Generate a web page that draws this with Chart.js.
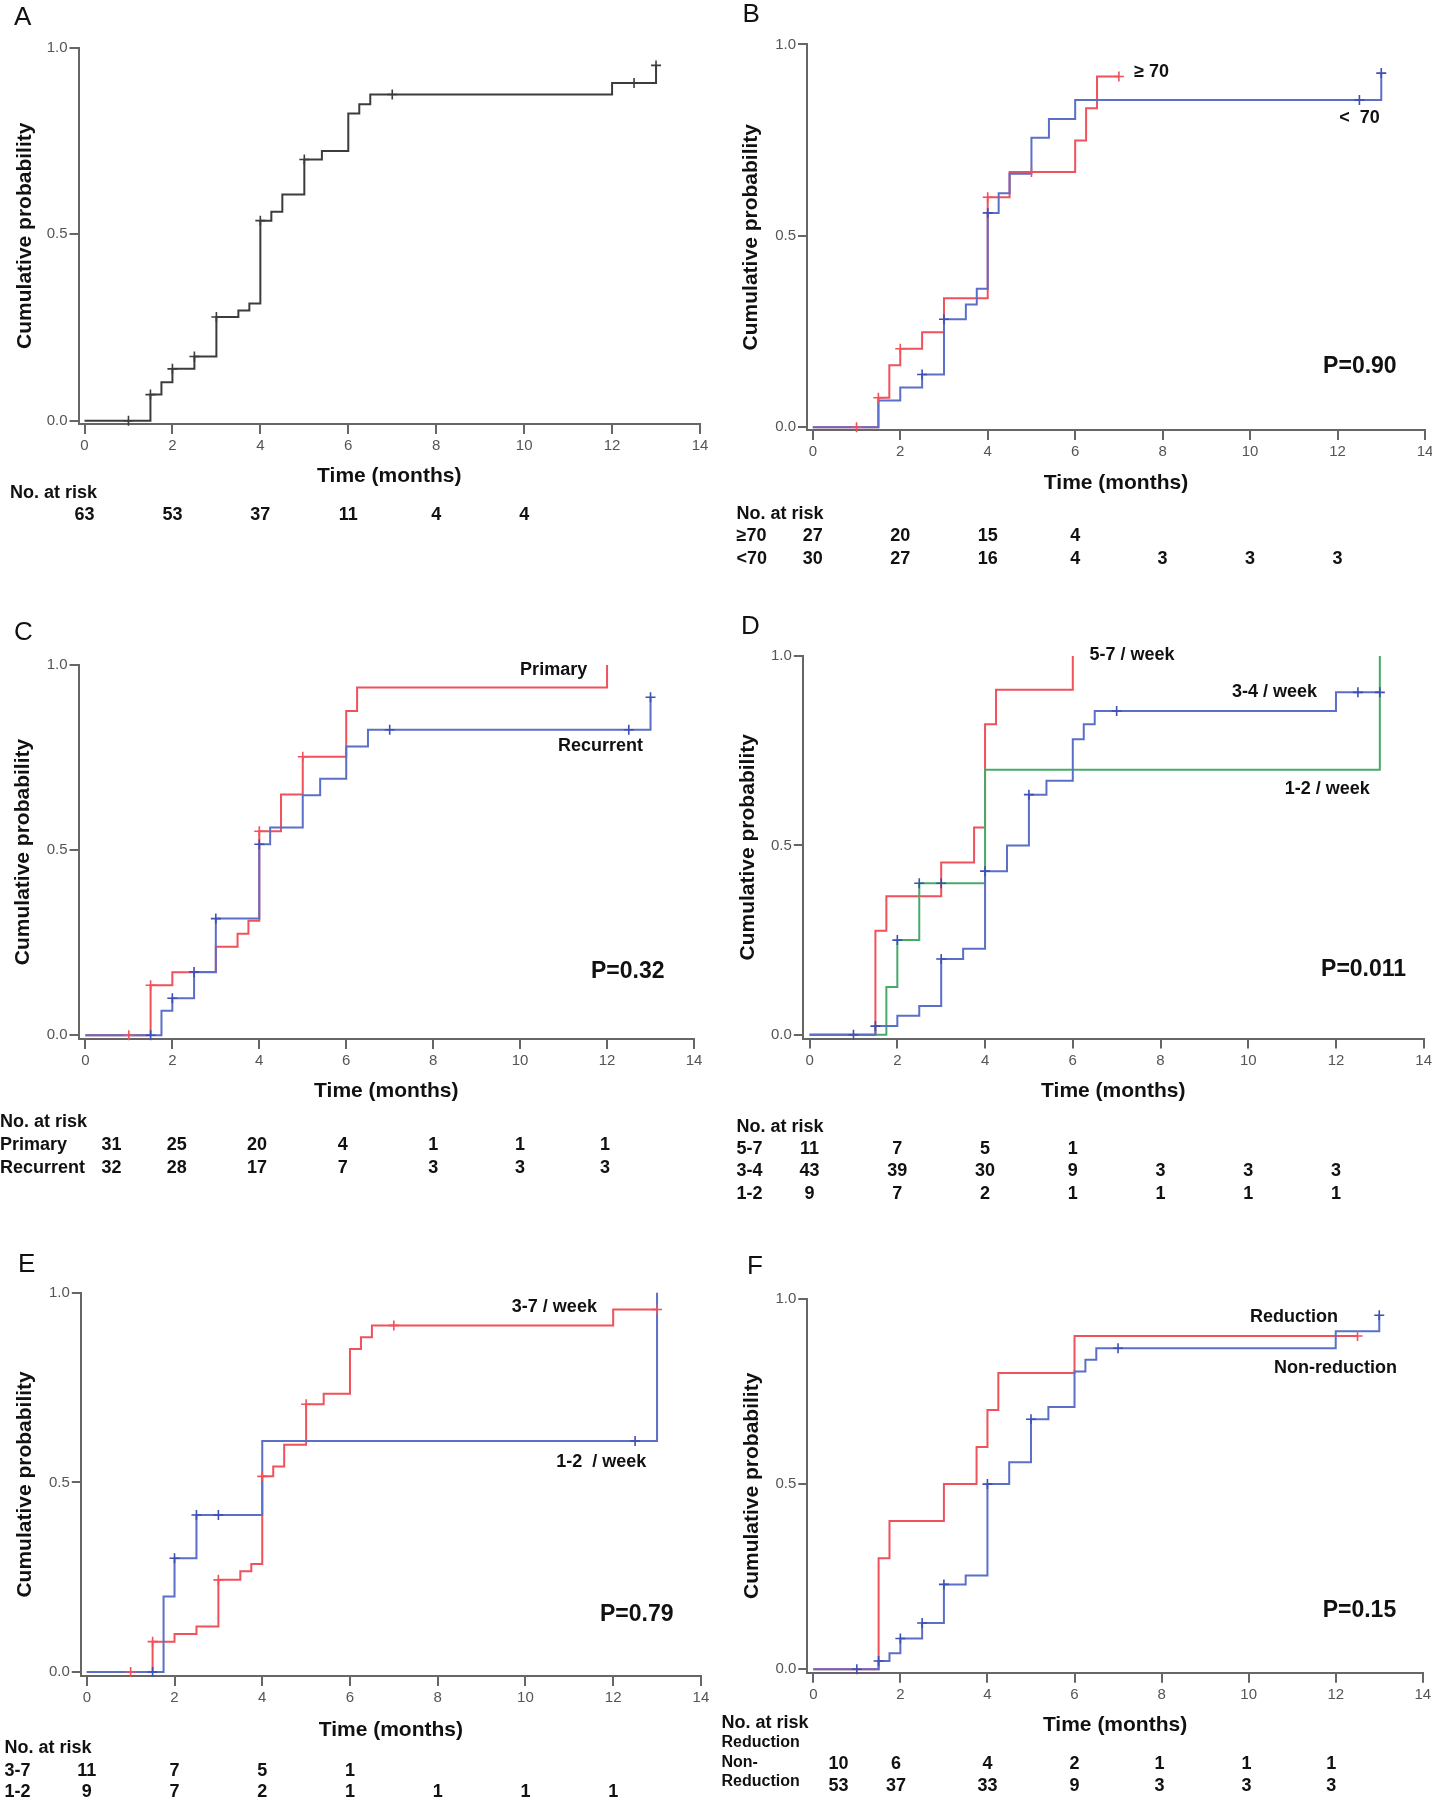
<!DOCTYPE html>
<html>
<head>
<meta charset="utf-8">
<script src="https://cdn.jsdelivr.net/npm/chart.js@4.4.1/dist/chart.umd.min.js"></script>
<style>
  html, body { margin: 0; padding: 0; background: #fff; }
  body { width: 1432px; height: 1800px; position: relative; overflow: hidden; }
  canvas { position: absolute; }
</style>
</head>
<body>
<canvas id="chartA"></canvas>
<canvas id="chartB"></canvas>
<canvas id="chartC"></canvas>
<canvas id="chartD"></canvas>
<canvas id="chartE"></canvas>
<canvas id="chartF"></canvas>
<script>
// axis ticks shared by all panels
const xTicks = [0, 2, 4, 6, 8, 10, 12, 14];
const yTicks = [0, 0.5, 1];

// A: all patients
const aTime = [0, 1.5, 1.75, 2, 2.5, 3, 3.5, 3.75, 4, 4.25, 4.5, 5, 5.4, 6, 6.25, 6.5, 12, 13];
const aProb = [0, 0.07, 0.103, 0.139, 0.172, 0.278, 0.295, 0.314, 0.536, 0.56, 0.606, 0.70, 0.723, 0.823, 0.848, 0.874, 0.905, 0.952];
const aCens = [1, 1.5, 2, 2.5, 3, 4, 5, 7, 12.5, 13];
const aRiskAt = [0, 2, 4, 6, 8, 10];
const aRiskAll = [63, 53, 37, 11, 4, 4];

// B: age >=70 vs <70
const bOldTime = [0, 1.5, 1.75, 2, 2.5, 3, 4, 4.5, 6, 6.25, 6.5, 7];
const bOldProb = [0, 0.077, 0.162, 0.205, 0.248, 0.337, 0.601, 0.667, 0.749, 0.833, 0.916, 0.916];
const bOldCens = [1, 1.5, 2, 4, 5, 7];
const bYoungTime = [0, 1.5, 2, 2.5, 3, 3.5, 3.75, 4, 4.25, 4.5, 5, 5.4, 6, 13];
const bYoungProb = [0, 0.07, 0.104, 0.138, 0.282, 0.321, 0.362, 0.56, 0.611, 0.662, 0.756, 0.805, 0.855, 0.925];
const bYoungCens = [2.5, 3, 4, 12.5, 13];
const bRiskAt = [0, 2, 4, 6, 8, 10, 12];
const bRiskOld = [27, 20, 15, 4];
const bRiskYoung = [30, 27, 16, 4, 3, 3, 3];

// C: primary vs recurrent
const cPrimTime = [0, 1.5, 2, 3, 3.5, 3.75, 4, 4.5, 5, 6, 6.25, 12];
const cPrimProb = [0, 0.135, 0.17, 0.239, 0.274, 0.309, 0.551, 0.65, 0.752, 0.876, 0.939, 1.0];
const cPrimCens = [1, 1.5, 4, 5];
const cRecTime = [0, 1.75, 2, 2.5, 3, 4, 4.25, 5, 5.4, 6, 6.5, 13];
const cRecProb = [0, 0.066, 0.10, 0.171, 0.315, 0.516, 0.561, 0.648, 0.693, 0.78, 0.825, 0.913];
const cRecCens = [1.5, 2, 2.5, 3, 4, 7, 12.5, 13];
const cRiskAt = [0.6, 2.1, 3.95, 5.92, 8, 10, 11.95];
const cRiskPrim = [31, 25, 20, 4, 1, 1, 1];
const cRiskRec = [32, 28, 17, 7, 3, 3, 3];

// D: 5-7, 3-4, 1-2 per week
const dHighTime = [0, 1.5, 1.75, 3, 3.75, 4, 4.25, 6];
const dHighProb = [0, 0.275, 0.366, 0.455, 0.547, 0.82, 0.911, 1.0];
const dMidTime = [0, 1.5, 2, 2.5, 3, 3.5, 4, 4.5, 5, 5.4, 6, 6.25, 6.5, 12, 13];
const dMidProb = [0, 0.023, 0.05, 0.076, 0.20, 0.227, 0.432, 0.50, 0.634, 0.671, 0.78, 0.82, 0.855, 0.904, 0.904];
const dMidCens = [1, 1.5, 3, 4, 5, 7, 12.5, 13];
const dLowTime = [0, 1.75, 2, 2.5, 4, 13];
const dLowProb = [0, 0.126, 0.25, 0.40, 0.70, 1.0];
const dLowCens = [2, 2.5, 3];
const dRiskAt = [0, 2, 4, 6, 8, 10, 12];
const dRiskHigh = [11, 7, 5, 1];
const dRiskMid = [43, 39, 30, 9, 3, 3, 3];
const dRiskLow = [9, 7, 2, 1, 1, 1, 1];

// E: 3-7 vs 1-2 per week
const eHighTime = [0, 1.5, 2, 2.5, 3, 3.5, 3.75, 4, 4.25, 4.5, 5, 5.4, 6, 6.25, 6.5, 12, 13];
const eHighProb = [0, 0.08, 0.10, 0.12, 0.243, 0.266, 0.285, 0.516, 0.542, 0.599, 0.706, 0.734, 0.852, 0.883, 0.914, 0.956, 0.956];
const eHighCens = [1, 1.5, 3, 4, 5, 7, 13];
const eLowTime = [0, 1.75, 2, 2.5, 4, 13];
const eLowProb = [0, 0.199, 0.30, 0.414, 0.609, 1.0];
const eLowCens = [1.5, 2, 2.5, 3, 12.5];
const eRiskAt = [0, 2, 4, 6, 8, 10, 12];
const eRiskHigh = [11, 7, 5, 1];
const eRiskLow = [9, 7, 2, 1, 1, 1, 1];

// F: reduction vs non-reduction
const fRedTime = [0, 1.5, 1.75, 3, 3.75, 4, 4.25, 6, 12.5];
const fRedProb = [0, 0.30, 0.40, 0.50, 0.60, 0.70, 0.80, 0.90, 0.90];
const fRedCens = [12.5];
const fNonTime = [0, 1.5, 1.75, 2, 2.5, 3, 3.5, 4, 4.5, 5, 5.4, 6, 6.25, 6.5, 12, 13];
const fNonProb = [0, 0.022, 0.043, 0.083, 0.125, 0.229, 0.253, 0.50, 0.559, 0.675, 0.708, 0.804, 0.836, 0.867, 0.913, 0.956];
const fNonCens = [1, 1.5, 2, 2.5, 3, 4, 5, 7, 13];
const fRiskAt = [0.58, 1.9, 4, 6, 7.95, 9.95, 11.9];
const fRiskRed = [10, 6, 4, 2, 1, 1, 1];
const fRiskNon = [53, 37, 33, 9, 3, 3, 3];

const RED = '#f0525c';
const BLUE = '#5b6fc8';
const GREEN = '#48aa6a';
const DARKBLUE = '#3e50b4';
const GREY = '#3c3c3c';
const FONT = "'Liberation Sans', Arial, Helvetica, sans-serif";

Chart.defaults.font.family = FONT;

// value of the step curve at time t (after any jump at t)
function stepValue(times, probs, t) {
  let v = probs[0];
  for (let i = 0; i < times.length; i++) {
    if (times[i] <= t + 1e-9) v = probs[i];
  }
  return v;
}

function curve(times, probs, color) {
  return {
    data: times.map((t, i) => ({ x: t, y: probs[i] })),
    borderColor: color,
    borderWidth: 2,
    stepped: true,
    pointRadius: 0,
    fill: false,
    clip: false,
    order: 2
  };
}

function censored(cens, times, probs, color) {
  return {
    data: cens.map(t => ({ x: t, y: stepValue(times, probs, t) })),
    showLine: false,
    pointStyle: 'cross',
    pointRadius: 5,
    pointBorderWidth: 1.6,
    borderColor: color,
    backgroundColor: color,
    clip: false,
    order: 1
  };
}

const panels = [
  {
    id: 'chartA', letter: 'A', left: 0, top: 0, w: 716, h: 600,
    areaLeft: 78.5, areaRight: 700, areaTop: 47.5, areaBottom: 424, x0: 84.5, y0: 420.7,
    xTitleY: 476.7, yTitleX: 25, letterX: 14, letterY: 24.5,
    datasets: [curve(aTime, aProb, GREY), censored(aCens, aTime, aProb, GREY)],
    labels: [],
    riskX: 10, riskY: 493, riskAt: aRiskAt,
    rowLabels: [],
    rows: [{ y: 515, values: aRiskAll }]
  },
  {
    id: 'chartB', letter: 'B', left: 716, top: 0, w: 716, h: 600,
    areaLeft: 91, areaRight: 709, areaTop: 44.4, areaBottom: 430, x0: 96.8, y0: 427.3,
    xTitleY: 483, yTitleX: 35.6, letterX: 26.5, letterY: 22,
    datasets: [
      curve(bYoungTime, bYoungProb, BLUE), censored(bYoungCens, bYoungTime, bYoungProb, DARKBLUE),
      curve(bOldTime, bOldProb, RED), censored(bOldCens, bOldTime, bOldProb, RED)
    ],
    labels: [
      { text: '\u2265 70', x: 7.35, y: 0.928, size: 18 },
      { text: '<  70', x: 12.04, y: 0.808, size: 18 },
      { text: 'P=0.90', x: 11.67, y: 0.158, size: 23 }
    ],
    riskX: 20.5, riskY: 514, riskAt: bRiskAt,
    rowLabels: [{ text: '\u226570', y: 536.5 }, { text: '<70', y: 558.7 }],
    rows: [{ y: 536.5, values: bRiskOld }, { y: 558.7, values: bRiskYoung }]
  },
  {
    id: 'chartC', letter: 'C', left: 0, top: 600, w: 716, h: 600,
    areaLeft: 78.5, areaRight: 694, areaTop: 65, areaBottom: 439, x0: 85.4, y0: 435.2,
    xTitleY: 491.7, yTitleX: 23.3, letterX: 14, letterY: 40,
    datasets: [
      curve(cRecTime, cRecProb, BLUE), censored(cRecCens, cRecTime, cRecProb, DARKBLUE),
      curve(cPrimTime, cPrimProb, RED), censored(cPrimCens, cPrimTime, cPrimProb, RED)
    ],
    labels: [
      { text: 'Primary', x: 10.0, y: 0.986, size: 18 },
      { text: 'Recurrent', x: 10.87, y: 0.78, size: 18 },
      { text: 'P=0.32', x: 11.63, y: 0.171, size: 23 }
    ],
    riskX: 0, riskY: 522.5, riskAt: cRiskAt,
    rowLabels: [{ text: 'Primary', y: 545 }, { text: 'Recurrent', y: 567.7 }],
    rows: [{ y: 545, values: cRiskPrim }, { y: 567.7, values: cRiskRec }]
  },
  {
    id: 'chartD', letter: 'D', left: 716, top: 600, w: 716, h: 600,
    areaLeft: 86.8, areaRight: 707.7, areaTop: 56, areaBottom: 438.6, x0: 93.6, y0: 434.8,
    xTitleY: 491.4, yTitleX: 32, letterX: 25, letterY: 34,
    datasets: [
      curve(dMidTime, dMidProb, BLUE), curve(dLowTime, dLowProb, GREEN), curve(dHighTime, dHighProb, RED),
      censored(dMidCens, dMidTime, dMidProb, DARKBLUE), censored(dLowCens, dLowTime, dLowProb, DARKBLUE)
    ],
    labels: [
      { text: '5-7 / week', x: 6.38, y: 1.003, size: 18 },
      { text: '3-4 / week', x: 9.63, y: 0.904, size: 18 },
      { text: '1-2 / week', x: 10.83, y: 0.649, size: 18 },
      { text: 'P=0.011', x: 11.66, y: 0.172, size: 23 }
    ],
    riskX: 20.5, riskY: 526.6, riskAt: dRiskAt,
    rowLabels: [{ text: '5-7', y: 548.8 }, { text: '3-4', y: 571 }, { text: '1-2', y: 593.6 }],
    rows: [{ y: 548.8, values: dRiskHigh }, { y: 571, values: dRiskMid }, { y: 593.6, values: dRiskLow }]
  },
  {
    id: 'chartE', letter: 'E', left: 0, top: 1240, w: 716, h: 560,
    areaLeft: 80.8, areaRight: 700.9, areaTop: 52.8, areaBottom: 436, x0: 86.8, y0: 432,
    xTitleY: 490.6, yTitleX: 25.5, letterX: 18, letterY: 32,
    datasets: [
      curve(eLowTime, eLowProb, BLUE), censored(eLowCens, eLowTime, eLowProb, DARKBLUE),
      curve(eHighTime, eHighProb, RED), censored(eHighCens, eHighTime, eHighProb, RED)
    ],
    labels: [
      { text: '3-7 / week', x: 9.69, y: 0.963, size: 18 },
      { text: '1-2  / week', x: 10.7, y: 0.555, size: 18 },
      { text: 'P=0.79', x: 11.7, y: 0.151, size: 23 }
    ],
    riskX: 4.6, riskY: 508, riskAt: eRiskAt,
    rowLabels: [{ text: '3-7', y: 531 }, { text: '1-2', y: 552 }],
    rows: [{ y: 531, values: eRiskHigh }, { y: 552, values: eRiskLow }]
  },
  {
    id: 'chartF', letter: 'F', left: 716, top: 1240, w: 716, h: 560,
    areaLeft: 91.3, areaRight: 706.8, areaTop: 59, areaBottom: 432.7, x0: 97.3, y0: 429.2,
    xTitleY: 485.3, yTitleX: 36.5, letterX: 31, letterY: 34,
    datasets: [
      curve(fNonTime, fNonProb, BLUE), censored(fNonCens, fNonTime, fNonProb, DARKBLUE),
      curve(fRedTime, fRedProb, RED), censored(fRedCens, fRedTime, fRedProb, RED)
    ],
    labels: [
      { text: 'Reduction', x: 10.03, y: 0.951, size: 18 },
      { text: 'Non-reduction', x: 10.58, y: 0.814, size: 18 },
      { text: 'P=0.15', x: 11.7, y: 0.157, size: 23 }
    ],
    riskX: 5.5, riskY: 483, riskAt: fRiskAt,
    rowLabels: [
      { text: 'Reduction', y: 503, size: 16 },
      { text: 'Non-', y: 523, size: 16 },
      { text: 'Reduction', y: 542, size: 16 }
    ],
    rows: [{ y: 524, values: fRiskRed }, { y: 545.7, values: fRiskNon }]
  }
];

// panel letter, curve labels, P value and the number-at-risk table
function textPlugin(p) {
  return {
    id: 'kmText' + p.letter,
    afterDraw(chart) {
      const ctx = chart.ctx;
      const xs = chart.scales.x;
      const ys = chart.scales.y;
      ctx.save();
      ctx.fillStyle = '#111';
      ctx.textAlign = 'left';
      ctx.textBaseline = 'alphabetic';
      ctx.font = '26px ' + FONT;
      ctx.fillText(p.letter, p.letterX, p.letterY);

      ctx.textBaseline = 'middle';
      p.labels.forEach(l => {
        ctx.font = 'bold ' + l.size + 'px ' + FONT;
        ctx.fillText(l.text, xs.getPixelForValue(l.x), ys.getPixelForValue(l.y));
      });

      ctx.font = 'bold 18px ' + FONT;
      ctx.fillText('No. at risk', p.riskX, p.riskY);
      p.rowLabels.forEach(r => {
        ctx.font = 'bold ' + (r.size || 18) + 'px ' + FONT;
        ctx.fillText(r.text, p.riskX, r.y);
      });
      ctx.textAlign = 'center';
      ctx.font = 'bold 18px ' + FONT;
      p.rows.forEach(r => {
        r.values.forEach((v, i) => {
          ctx.fillText(String(v), xs.getPixelForValue(p.riskAt[i]), r.y);
        });
      });
      ctx.restore();
    }
  };
}

function makeChart(p) {
  const canvas = document.getElementById(p.id);
  canvas.width = p.w;
  canvas.height = p.h;
  canvas.style.left = p.left + 'px';
  canvas.style.top = p.top + 'px';

  const pxPerMonth = (p.areaRight - p.x0) / 14;
  const xMin = -(p.x0 - p.areaLeft) / pxPerMonth;
  const yMin = -(p.areaBottom - p.y0) / (p.y0 - p.areaTop);
  const xAxisH = p.xTitleY + 12.6 - p.areaBottom;

  return new Chart(canvas, {
    type: 'line',
    data: { datasets: p.datasets },
    options: {
      responsive: false,
      animation: false,
      devicePixelRatio: 1,
      layout: {
        padding: { left: 0, top: p.areaTop, right: p.w - p.areaRight, bottom: p.h - p.areaBottom - xAxisH }
      },
      plugins: { legend: { display: false }, tooltip: { enabled: false } },
      scales: {
        x: {
          type: 'linear',
          min: xMin,
          max: 14,
          afterBuildTicks: s => { s.ticks = xTicks.map(v => ({ value: v })); },
          afterFit: s => { s.height = xAxisH; s.paddingLeft = 0; s.paddingRight = 0; },
          ticks: { autoSkip: false, maxRotation: 0, padding: 3, color: '#555', font: { size: 15 } },
          grid: { drawOnChartArea: false, drawTicks: true, tickLength: 10, color: '#666', lineWidth: 2 },
          border: { display: true, color: '#666', width: 2 },
          title: { display: true, text: 'Time (months)', color: '#111', font: { size: 21, weight: 'bold' }, padding: { top: 0, bottom: 0 } }
        },
        y: {
          type: 'linear',
          min: yMin,
          max: 1,
          afterBuildTicks: s => { s.ticks = yTicks.map(v => ({ value: v })); },
          afterFit: s => { s.width = p.areaLeft; s.paddingTop = 0; s.paddingBottom = 0; },
          ticks: { padding: 2, color: '#555', font: { size: 15 }, callback: v => v.toFixed(1) },
          grid: { drawOnChartArea: false, drawTicks: true, tickLength: 9, color: '#666', lineWidth: 2 },
          border: { display: true, color: '#666', width: 2 },
          title: { display: true, text: 'Cumulative probability', color: '#111', font: { size: 21, weight: 'bold' }, padding: { top: p.yTitleX - 12.6, bottom: 0 } }
        }
      }
    },
    plugins: [textPlugin(p)]
  });
}

panels.forEach(makeChart);
</script>
</body>
</html>
